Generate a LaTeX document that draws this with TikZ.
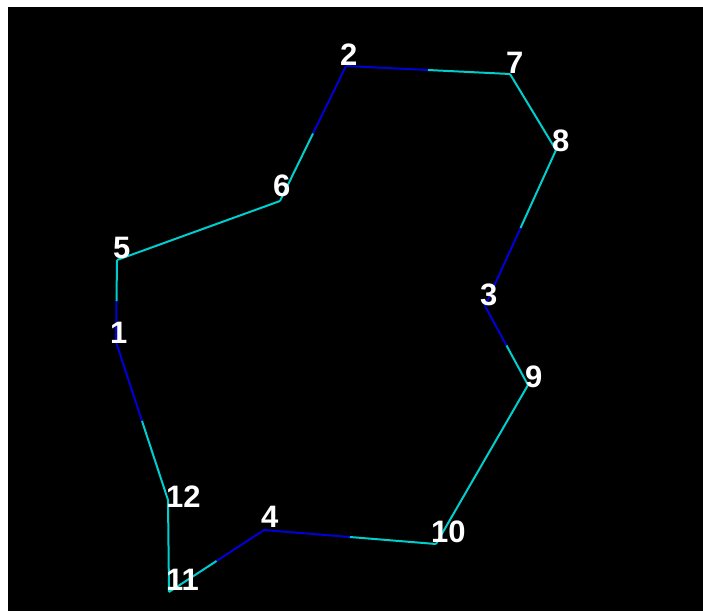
\documentclass[tikz,border=0pt]{standalone}
\usepackage{fontspec}
\setmainfont{Liberation Sans}
\usetikzlibrary{calc}
\definecolor{lineblue}{RGB}{0,0,215}
\definecolor{linecyan}{RGB}{0,205,205}
\tikzset{
  bl/.style={draw=lineblue, line width=2pt},
  cy/.style={draw=linecyan, line width=2pt},
  lab/.style={text=white, font=\fontsize{31}{31}\selectfont\bfseries, inner sep=0pt, anchor=base west}
}
\begin{document}
\begin{tikzpicture}[x=1pt,y=-1pt]
\useasboundingbox (0,0) rectangle (703,611);
\fill[white] (0,0) rectangle (703,611);
\fill[black] (8,7) rectangle (703,611);
% vertices
\coordinate (p1) at (116,342);
\coordinate (p2) at (346,66);
\coordinate (p3) at (485,306);
\coordinate (p4) at (264,530);
\coordinate (p5) at (117,260);
\coordinate (p6) at (280,201);
\coordinate (p7) at (510,74);
\coordinate (p8) at (556,150);
\coordinate (p9) at (528,385);
\coordinate (p10) at (436,544);
\coordinate (p11) at (169,592);
\coordinate (p12) at (168,500);
% cyan-only edges
\draw[cy] (p6) -- (p5);
\draw[cy] (p7) -- (p8);
\draw[cy] (p9) -- (p10);
\draw[cy] (p11) -- (p12);
% half edges (blue at vertices 1-4)
\draw[bl] (p2) -- ($(p2)!.5!(p7)$);
\draw[cy] ($(p2)!.5!(p7)$) -- (p7);
\draw[bl] (p2) -- ($(p2)!.5!(p6)$);
\draw[cy] ($(p2)!.5!(p6)$) -- (p6);
\draw[bl] (p3) -- ($(p3)!.5!(p8)$);
\draw[cy] ($(p3)!.5!(p8)$) -- (p8);
\draw[bl] (p3) -- ($(p3)!.5!(p9)$);
\draw[cy] ($(p3)!.5!(p9)$) -- (p9);
\draw[bl] (p4) -- ($(p4)!.5!(p10)$);
\draw[cy] ($(p4)!.5!(p10)$) -- (p10);
\draw[bl] (p4) -- ($(p4)!.5!(p11)$);
\draw[cy] ($(p4)!.5!(p11)$) -- (p11);
\draw[bl] (p1) -- ($(p1)!.5!(p12)$);
\draw[cy] ($(p1)!.5!(p12)$) -- (p12);
\draw[bl] (p1) -- ($(p1)!.5!(p5)$);
\draw[cy] ($(p1)!.5!(p5)$) -- (p5);
% labels
\node[lab] (l1) at (110,343) {1};
\node[lab] (l2) at (340,65) {2};
\node[lab] (l3) at (480,305) {3};
\node[lab] (l4) at (261,527) {4};
\node[lab] (l5) at (113,258) {5};
\node[lab] (l6) at (273,196) {6};
\node[lab] (l7) at (506,73) {7};
\node[lab] (l8) at (552,151) {8};
\node[lab] (l9) at (525,387) {9};
\node[lab] (l10) at (431,542) {10};
\node[lab] (l11) at (166,590) {11};
\node[lab] (l12) at (166,507) {12};
\end{tikzpicture}
\end{document}
